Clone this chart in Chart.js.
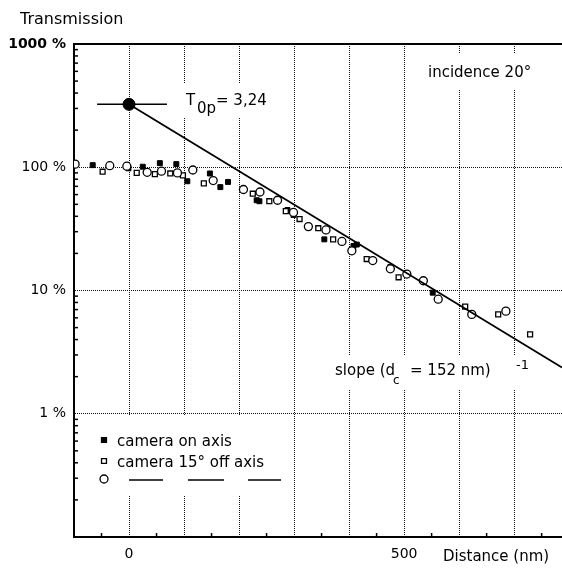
<!DOCTYPE html>
<html>
<head>
<meta charset="utf-8">
<script src="https://cdn.jsdelivr.net/npm/chart.js@4.4.1/dist/chart.umd.min.js"></script>
<style>
  html, body { margin: 0; padding: 0; background: #fff; }
  #wrap { width: 562px; height: 569px; position: relative; }
</style>
</head>
<body>
<div id="wrap"><canvas id="chart"></canvas></div>
<script>
// Transmission vs. distance, log scale.

const onAxisX = [-66, -1, 25, 56, 86, 106, 116, 147, 166, 180, 232, 237, 288, 299, 355, 408, 414, 475, 552];
const onAxisY = [104, 98, 101, 108, 106, 77, 96, 89, 69, 76, 54, 53, 45, 41, 26, 23, 23.6, 15.5, 9.6];

const offAxisX = [-48, 14, 47, 75, 98, 136, 225, 255, 285, 310, 344, 371, 432, 490, 611, 671, 729];
const offAxisY = [92, 90, 88, 89, 86, 74, 61, 53, 44, 38, 32, 26, 18, 12.8, 7.4, 6.4, 4.4];

const circleX = [-98, -35, -4, 33, 59, 88, 116, 153, 208, 238, 270, 299, 326, 358, 387, 405, 443, 475, 505, 535, 562, 623, 685];
const circleY = [106, 103, 102, 91, 93, 90, 95, 78, 66, 63, 54, 43, 33, 31, 25, 21, 17.5, 15, 13.6, 12, 8.5, 6.4, 6.8];

// exponential fit and its extrapolated origin T0p
const fitX = [0, 787];
const fitY = [324, 2.37];
const t0X = [0];
const t0Y = [324];
const t0BarX = [-58, 69];
const t0BarY = [324, 324];

const xGridTicks = [-100, 0, 100, 200, 300, 400, 500, 600, 700];
const xLabelled = [0, 500];
const yTicks = [0.1, 1, 10, 100, 1000];
const yLabelled = [1, 10, 100, 1000];

const FONT = "'DejaVu Sans', Arial, sans-serif";

function pts(xs, ys) {
  return xs.map((x, i) => ({ x, y: ys[i] }));
}

const annotations = {
  id: "annotations",
  beforeDatasetsDraw(chart) {
    // white patches where the printed text interrupts the dotted grid
    const ctx = chart.ctx;
    ctx.save();
    ctx.fillStyle = "#fff";
    ctx.fillRect(424, 53, 122, 36);   // incidence
    ctx.fillRect(178, 84, 96, 34);    // T0p
    ctx.fillRect(328, 356, 206, 34);  // slope
    ctx.fillRect(94, 416, 196, 80);   // legend
    ctx.restore();
  },
  afterDatasetsDraw(chart) {
    const ctx = chart.ctx;
    const a = chart.chartArea;
    ctx.save();
    ctx.strokeStyle = "#000";
    ctx.lineWidth = 2;
    ctx.beginPath();
    ctx.moveTo(a.left, a.top);
    ctx.lineTo(a.right, a.top);
    ctx.stroke();

    ctx.fillStyle = "#000";
    ctx.textBaseline = "alphabetic";
    ctx.textAlign = "left";

    ctx.font = "16px " + FONT;
    ctx.fillText("Transmission", 20, 24);

    ctx.font = "15px " + FONT;
    ctx.fillText("incidence 20°", 428, 77);

    ctx.fillText("T", 186, 105);
    ctx.fillText("0p", 197, 113);
    ctx.fillText("= 3,24", 216, 105);

    ctx.fillText("slope (d", 335, 375);
    ctx.font = "12px " + FONT;
    ctx.fillText("c", 393, 384);
    ctx.font = "15px " + FONT;
    ctx.fillText("= 152 nm)", 410, 375);
    ctx.font = "13px " + FONT;
    ctx.fillText("-1", 516, 369);

    ctx.font = "15px " + FONT;
    ctx.fillText("Distance (nm)", 443, 561);

    // legend
    const h = Chart.helpers;
    ctx.fillStyle = "#000";
    ctx.strokeStyle = "#000";
    ctx.lineWidth = 1.3;
    h.drawPoint(ctx, { pointStyle: "rect", radius: 3.5, borderWidth: 1.3 }, 104, 440);
    ctx.fill();
    ctx.fillStyle = "#fff";
    h.drawPoint(ctx, { pointStyle: "rect", radius: 3.5, borderWidth: 1.3 }, 104, 461);
    h.drawPoint(ctx, { pointStyle: "circle", radius: 4, borderWidth: 1.3 }, 104, 479);
    ctx.fillStyle = "#000";
    ctx.fillText("camera on axis", 117, 446);
    ctx.fillText("camera 15° off axis", 117, 467);
    ctx.lineWidth = 1.5;
    [[129, 163], [188, 224], [248, 281]].forEach(([x1, x2]) => {
      ctx.beginPath();
      ctx.moveTo(x1, 480);
      ctx.lineTo(x2, 480);
      ctx.stroke();
    });

    // minor ticks on both axes
    const xs = chart.scales.x;
    const ys = chart.scales.y;
    ctx.lineWidth = 1.5;
    for (let v = -50; v < xs.max; v += 100) {
      const px = xs.getPixelForValue(v);
      ctx.beginPath();
      ctx.moveTo(px, a.bottom);
      ctx.lineTo(px, a.bottom - 4);
      ctx.stroke();
    }
    for (let d = 0.1; d < 1000; d *= 10) {
      for (let m = 2; m <= 9; m++) {
        const py = ys.getPixelForValue(d * m);
        ctx.beginPath();
        ctx.moveTo(a.left, py);
        ctx.lineTo(a.left + 4, py);
        ctx.stroke();
      }
    }
    ctx.restore();
  },
};

new Chart(document.getElementById("chart"), {
  type: "scatter",
  data: {
    datasets: [
      {
        label: "fit",
        type: "line",
        data: pts(fitX, fitY),
        borderColor: "#000",
        borderWidth: 1.8,
        pointRadius: 0,
      },
      {
        label: "T0p bar",
        type: "line",
        data: pts(t0BarX, t0BarY),
        borderColor: "#000",
        borderWidth: 1.5,
        pointRadius: 0,
      },
      {
        label: "T0p",
        data: pts(t0X, t0Y),
        pointStyle: "circle",
        pointRadius: 6,
        backgroundColor: "#000",
        borderColor: "#000",
      },
      {
        label: "third",
        data: pts(circleX, circleY),
        pointStyle: "circle",
        pointRadius: 4,
        borderWidth: 1.3,
        backgroundColor: "#fff",
        borderColor: "#000",
      },
      {
        label: "camera 15° off axis",
        data: pts(offAxisX, offAxisY),
        pointStyle: "rect",
        pointRadius: 3.5,
        borderWidth: 1.3,
        backgroundColor: "#fff",
        borderColor: "#000",
      },
      {
        label: "camera on axis",
        data: pts(onAxisX, onAxisY),
        pointStyle: "rect",
        pointRadius: 3.5,
        borderWidth: 1,
        backgroundColor: "#000",
        borderColor: "#000",
      },
    ],
  },
  options: {
    responsive: true,
    maintainAspectRatio: false,
    animation: false,
    layout: { autoPadding: false, padding: { top: 44, left: 0, right: 0, bottom: 0 } },
    plugins: { legend: { display: false }, tooltip: { enabled: false } },
    scales: {
      x: {
        type: "linear",
        min: -100,
        max: 787,
        afterBuildTicks: (s) => { s.ticks = xGridTicks.map((v) => ({ value: v })); },
        afterFit: (s) => { s.height = 32; },
        grid: {
          color: (c) => (c.tick && c.tick.value === -100 ? "transparent" : "#111"),
          lineWidth: 1,
          drawTicks: false,
        },
        border: { display: true, color: "#000", width: 2, dash: [1, 1] },
        ticks: {
          padding: 9,
          maxRotation: 0,
          autoSkip: false,
          color: "#000",
          font: { family: FONT, size: 14 },
          callback: (v) => (xLabelled.includes(v) ? String(v) : ""),
        },
      },
      y: {
        type: "logarithmic",
        min: 0.1,
        max: 1000,
        afterBuildTicks: (s) => { s.ticks = yTicks.map((v) => ({ value: v })); },
        afterFit: (s) => { s.width = 74; },
        grid: {
          color: (c) => (c.tick && (c.tick.value === 0.1 || c.tick.value === 1000) ? "transparent" : "#111"),
          lineWidth: 1,
          drawTicks: false,
        },
        border: { display: true, color: "#000", width: 2, dash: [1, 1] },
        ticks: {
          padding: 8,
          autoSkip: false,
          color: "#000",
          font: (c) => ({ family: FONT, size: 14, weight: c.tick && c.tick.value === 1000 ? "bold" : "normal" }),
          callback: (v) => (yLabelled.includes(v) ? v + " %" : ""),
        },
      },
    },
  },
  plugins: [annotations],
});
</script>
</body>
</html>
